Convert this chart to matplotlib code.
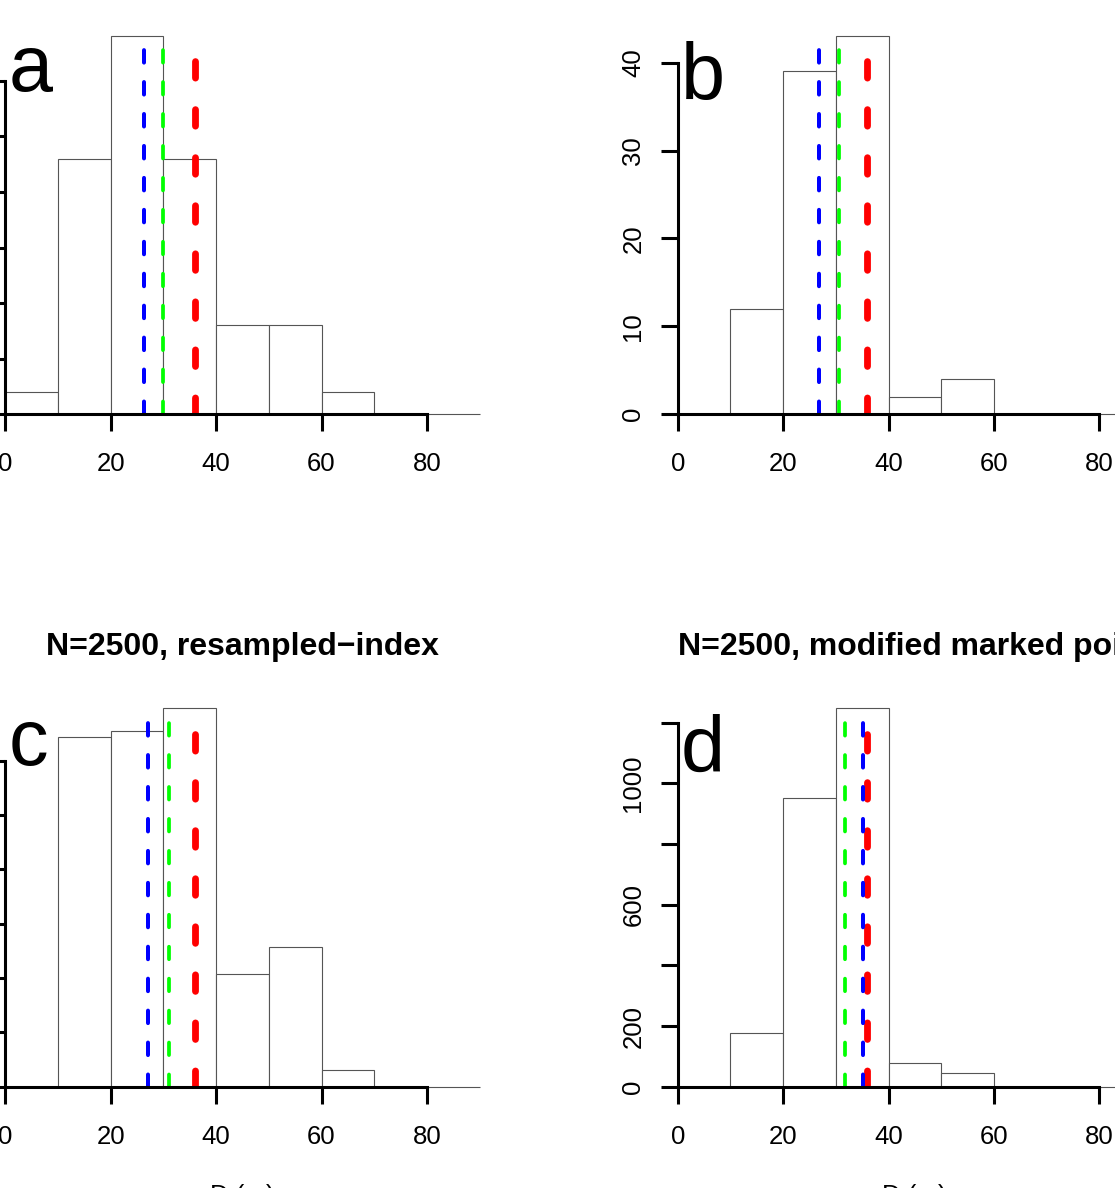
import matplotlib
matplotlib.use('Agg')
import matplotlib.pyplot as plt
import numpy as np

plt.rcParams['font.family'] = ['Liberation Sans', 'DejaVu Sans']
plt.rcParams['lines.scale_dashes'] = False

W, H = 1115, 1188

# histogram bins of D (m)
bin_edges = np.arange(0, 100, 10)

# counts per bin, 0-10 ... 80-90
counts_a = [2, 23, 34, 23, 8, 8, 2, 0, 0]
counts_b = [0, 12, 39, 43, 2, 4, 0, 0, 0]
counts_c = [0, 643, 654, 696, 208, 257, 31, 0, 0]
counts_d = [0, 178, 953, 1247, 78, 44, 0, 0, 0]

# vertical reference lines: blue, green, red
lines_a = (26.4, 30.0, 36.0)
lines_b = (26.9, 30.7, 36.0)
lines_c = (27.0, 31.0, 36.0)
lines_d = (35.1, 31.8, 36.0)

xticks = [0, 20, 40, 60, 80]
# left column sits against the page edge, so its count labels are not drawn
yticks_a = [0, 5, 10, 15, 20, 25, 30]
ylabels_a = [''] * 7
yticks_b = [0, 10, 20, 30, 40]
ylabels_b = ['0', '10', '20', '30', '40']
yticks_c = [0, 100, 200, 300, 400, 500, 600]
ylabels_c = [''] * 7
yticks_d = [0, 200, 400, 600, 800, 1000, 1200]
ylabels_d = ['0', '200', '', '600', '', '1000', '']

titles = ['', '', 'N=2500, resampled\u2212index', 'N=2500, modified marked point']
letters = ['a', 'b', 'c', 'd']

fig = plt.figure(figsize=(W / 100, H / 100), dpi=100)


def px_axes(x0, ytop, x1, ybot):
    return fig.add_axes([x0 / W, 1 - ybot / H, (x1 - x0) / W, (ybot - ytop) / H])


def draw_panel(ax, counts, vlines, yticks, ylabels):
    ax.bar(bin_edges[:-1], counts, width=10, align='edge', facecolor='white',
           edgecolor='#555555', linewidth=0.8, clip_on=False, zorder=1)
    ymax = max(counts)
    blue, green, red = vlines
    ax.plot([red, red], [0, ymax], color='#ff0000', lw=4.9,
            dashes=(11.9, 22.7), dash_capstyle='round', zorder=2)
    ax.plot([green, green], [0, ymax], color='#00ff00', lw=2.7,
            dashes=(9.0, 14.0), dash_capstyle='round', zorder=2)
    ax.plot([blue, blue], [0, ymax], color='#0000ff', lw=2.88,
            dashes=(9.0, 14.0), dash_capstyle='round', zorder=2)
    ax.set_xlim(0, 90)
    ax.set_ylim(0, ymax)
    ax.set_xticks(xticks)
    ax.set_xticklabels([str(t) for t in xticks])
    ax.set_yticks(yticks)
    ax.set_yticklabels(ylabels, rotation=90, va='center')
    for s in ['top', 'right']:
        ax.spines[s].set_visible(False)
    for s in ['left', 'bottom']:
        ax.spines[s].set_linewidth(2.2)
    ax.spines['bottom'].set_bounds(0, 80)
    ax.spines['left'].set_bounds(0, yticks[-1])
    ax.tick_params(axis='x', length=12.2, width=2.2, pad=15.3, labelsize=18.5)
    ax.tick_params(axis='y', length=12.2, width=2.2, pad=11, labelsize=18.5)
    ax.patch.set_visible(False)


sx = 5.27
col_x0 = [5.3, 677.7]
row_top = [36.3, 708.3]
row_bot = [414.3, 1086.8]

panels = [(counts_a, lines_a, yticks_a, ylabels_a),
          (counts_b, lines_b, yticks_b, ylabels_b),
          (counts_c, lines_c, yticks_c, ylabels_c),
          (counts_d, lines_d, yticks_d, ylabels_d)]
letter_base = [91, 99, 765, 772]

for i, (counts, vl, yt, yl) in enumerate(panels):
    r, c = divmod(i, 2)
    x0 = col_x0[c]
    ax = px_axes(x0, row_top[r], x0 + 90 * sx, row_bot[r])
    draw_panel(ax, counts, vl, yt, yl)
    fig.text((9 + 672 * c) / W, 1 - letter_base[i] / H, letters[i],
             fontsize=57, ha='left', va='baseline')
    cx = 242.5 + 672 * c
    if titles[i]:
        fig.text(cx / W, 1 - 655 / H, titles[i], fontsize=23, fontweight='bold',
                 ha='center', va='baseline')
    if r == 1:
        fig.text(cx / W, 1 - 1203 / H, 'D (m)', fontsize=18.5,
                 ha='center', va='baseline')

fig.savefig('out.png', dpi=100)
